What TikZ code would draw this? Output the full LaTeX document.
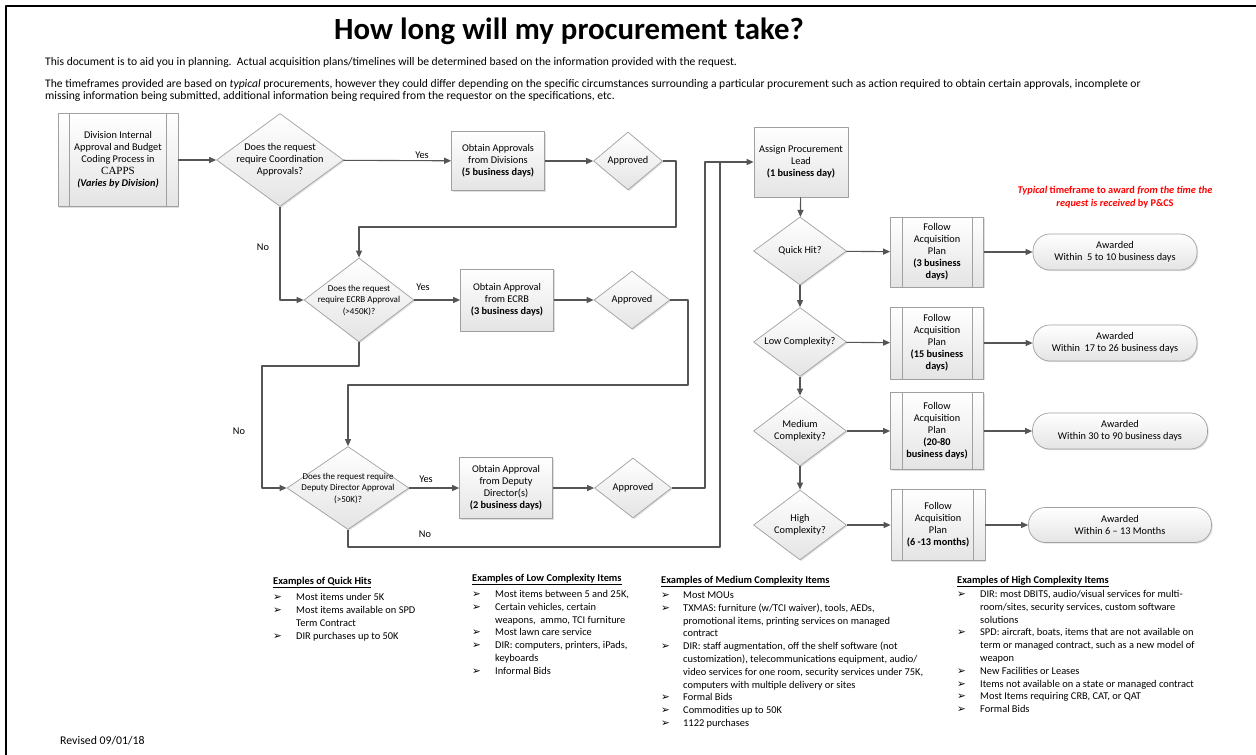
\documentclass[tikz,border=0pt]{standalone}
\usepackage{fontspec}
\setmainfont{Carlito}
\newfontfamily\cappsfont{Liberation Serif}
\newfontfamily\arrowfont{DejaVu Sans}
\usetikzlibrary{shapes.geometric,arrows.meta,shadows}
\definecolor{linegray}{HTML}{555555}
\definecolor{edgegray}{HTML}{A0A0A0}
\definecolor{fillgray}{HTML}{E4E4E4}
\definecolor{notered}{HTML}{FF0000}
\newcommand{\tick}{{\arrowfont\fontsize{10.5}{10}\selectfont ➢}}
\tikzset{
  shapebase/.style={draw=edgegray, line width=0.7pt, top color=white, bottom color=fillgray,
    drop shadow={shadow xshift=1.2pt, shadow yshift=-1.2pt, opacity=0.25},
    align=center, font=\fontsize{10.3}{12}\selectfont},
  stepbox/.style={shapebase, rectangle, inner sep=0pt},
  procbox/.style={stepbox},
  decision/.style={shapebase, diamond, inner xsep=-35pt, inner ysep=-25pt},
  smalltext/.style={font=\fontsize{9}{11.5}\selectfont},
  endbox/.style={shapebase, rectangle, rounded corners=17pt, inner sep=0pt},
  flow/.style={draw=linegray, line width=1.1pt, -{Triangle[length=7pt,width=6pt]}},
  rail/.style={draw=linegray, line width=1.1pt},
  lbl/.style={font=\fontsize{10.3}{12}\selectfont, inner sep=0pt},
  listtext/.style={anchor=north west, inner sep=0pt, align=left, font=\fontsize{10.4}{12.8}\selectfont},
}
\begin{document}
\begin{tikzpicture}[x=1pt, y=-1pt, line join=round]
  \useasboundingbox (0,0) rectangle (1256,755);
  %% khung trang
  \draw[line width=2pt] (6,755) -- (6,6) -- (1256,6);

  %% tieu de va loi dan
  \node[font=\bfseries\fontsize{30.8}{34}\selectfont] (title) at (569,31) {How long will my procurement take?};
  \node[anchor=west, inner sep=0pt, font=\fontsize{11.6}{12}\selectfont] (intro) at (45,62)
    {This document is to aid you in planning.\ \ Actual acquisition plans/timelines will be determined based on the information provided with the request.};
  \node[anchor=north west, inner sep=0pt, align=left, font=\fontsize{11.6}{12}\selectfont] (timeframes) at (45,79)
    {The timeframes provided are based on \textit{typical} procurements, however they could differ depending on the specific circumstances surrounding a particular procurement such as action required to obtain certain approvals, incomplete or\\
     missing information being submitted, additional information being required from the requestor on the specifications, etc.};

  %% cot trai: phe duyet
  \node[procbox, minimum width=120pt, minimum height=93pt] (start) at (118,160)
    {Division Internal\\Approval and Budget\\Coding Process in\\{\cappsfont\fontsize{11}{13}\selectfont CAPPS}\\\textbf{\textit{(Varies by Division)}}};
  \node[decision, minimum width=127pt, minimum height=93pt] (coord) at (280,160)
    {Does the request\\require Coordination\\Approvals?};
  \node[stepbox, minimum width=93pt, minimum height=59pt] (divs) at (498,161)
    {Obtain Approvals\\from Divisions\\\textbf{(5 business days)}};
  \node[decision, minimum width=69pt, minimum height=58pt] (okdivs) at (628,161) {Approved};

  \node[decision, smalltext, minimum width=110pt, minimum height=84pt] (ecrbq) at (359,300)
    {Does the request\\require ECRB Approval\\(>450K)?};
  \node[stepbox, minimum width=93pt, minimum height=62pt] (ecrb) at (507,300)
    {Obtain Approval\\from ECRB\\\textbf{(3 business days)}};
  \node[decision, minimum width=76pt, minimum height=58pt] (okecrb) at (632,300) {Approved};

  \node[decision, smalltext, minimum width=122pt, minimum height=83pt] (deputyq) at (348,488)
    {Does the request require\\Deputy Director Approval\\(>50K)?};
  \node[stepbox, minimum width=93pt, minimum height=61pt] (deputy) at (506,488)
    {Obtain Approval\\from Deputy\\Director(s)\\\textbf{(2 business days)}};
  \node[decision, minimum width=77pt, minimum height=60pt] (okdeputy) at (633,488) {Approved};

  %% cot phai: muc do phuc tap
  \node[stepbox, minimum width=94pt, minimum height=70pt] (lead) at (801,162)
    {Assign Procurement\\Lead\\\textbf{(1 business day)}};
  \node[decision, minimum width=93pt, minimum height=68pt] (quick) at (800,251) {Quick Hit?};
  \node[decision, minimum width=93pt, minimum height=69pt] (low) at (800,342) {Low Complexity?};
  \node[decision, minimum width=93pt, minimum height=70pt] (medium) at (800,431) {Medium\\Complexity?};
  \node[decision, minimum width=93pt, minimum height=70pt] (high) at (800,525) {High\\Complexity?};

  \node[procbox, minimum width=93pt, minimum height=70pt] (planq) at (937,252)
    {Follow\\Acquisition\\Plan\\\textbf{(3 business}\\\textbf{days)}};
  \node[procbox, minimum width=93pt, minimum height=72pt] (planl) at (937,343)
    {Follow\\Acquisition\\Plan\\\textbf{(15 business}\\\textbf{days)}};
  \node[procbox, minimum width=93pt, minimum height=77pt] (planm) at (937,431)
    {Follow\\Acquisition\\Plan\\\textbf{(20-80}\\\textbf{business days)}};
  \node[procbox, minimum width=94pt, minimum height=71pt] (planh) at (938,525)
    {Follow\\Acquisition\\Plan\\\textbf{(6 -13 months)}};

  \node[endbox, minimum width=164pt, minimum height=36pt] (awq) at (1115,252) {Awarded\\Within\ \ 5 to 10 business days};
  \node[endbox, minimum width=164pt, minimum height=36pt] (awl) at (1115,343) {Awarded\\Within\ \ 17 to 26 business days};
  \node[endbox, minimum width=175pt, minimum height=36pt] (awm) at (1120,431) {Awarded\\Within 30 to 90 business days};
  \node[endbox, minimum width=183pt, minimum height=35pt] (awh) at (1120,525) {Awarded\\Within 6 -- 13 Months};

  \node[align=center, text=notered, font=\bfseries\fontsize{10.3}{13}\selectfont] (note) at (1115,197)
    {\textit{Typical} timeframe to award \textit{from the time the}\\\textit{request is received} by P\&CS};

  %% vach doi cua hop quy trinh
  \foreach \n/\d in {start/12,planq/12,planl/12,planm/12,planh/12}
    \draw[draw=edgegray, line width=0.7pt] ([xshift=\d pt]\n.north west) -- ([xshift=\d pt]\n.south west)
      ([xshift=-\d pt]\n.north east) -- ([xshift=-\d pt]\n.south east);

  %% diem gay
  \path
    (676,227) coordinate (loopdivs)
    (688,385) coordinate (loopecrb)
    (262,366) coordinate (bendecrb)
    (705,162) coordinate (railok)
    (720,547) coordinate (railno)
    (720,162) coordinate (railtop)
    ;

  %% duong noi
  \draw[flow] (start) -- (coord);
  \draw[flow] (coord) -- (divs);
  \draw[flow] (divs) -- (okdivs);
  \draw[flow] (okdivs.east) -| (loopdivs) -| (ecrbq.north);
  \draw[flow] (coord.south) |- (ecrbq.west);
  \draw[flow] (ecrbq) -- (ecrb);
  \draw[flow] (ecrb) -- (okecrb);
  \draw[flow] (okecrb.east) -| (loopecrb) -| (deputyq.north);
  \draw[flow] (ecrbq.south) |- (bendecrb) |- (deputyq.west);
  \draw[flow] (deputyq) -- (deputy);
  \draw[flow] (deputy) -- (okdeputy);
  \draw[flow] (okdeputy.east) -| (railok) -- (lead.west);
  \draw[rail] (deputyq.south) |- (railno) -- (railtop);

  \draw[flow] (lead) -- (quick);
  \draw[flow] (quick) -- (low);
  \draw[flow] (low) -- (medium);
  \draw[flow] (medium) -- (high);
  \foreach \d/\p/\a in {quick/planq/awq,low/planl/awl,medium/planm/awm,high/planh/awh}{
    \draw[flow] (\d) -- (\p);
    \draw[flow] (\p) -- (\a);
  }

  %% nhan Yes/No
  \node[lbl] (yes1) at (422,155) {Yes};
  \node[lbl] (yes2) at (423,287) {Yes};
  \node[lbl] (yes3) at (426,479) {Yes};
  \node[lbl] (no1) at (263,247) {No};
  \node[lbl] (no2) at (239,431) {No};
  \node[lbl] (no3) at (425,534) {No};

  %% vi du
  \node[listtext] (exquick) at (273,575) {%
    \begin{tabular}{@{}p{23pt}@{}l@{}}
    \multicolumn{2}{@{}l@{}}{\textbf{\underline{Examples of Quick Hits}}}\\[4pt]
    \tick & Most items under 5K\\
    \tick & Most items available on SPD\\
          & Term Contract\\
    \tick & DIR purchases up to 50K
    \end{tabular}};
  \node[listtext] (exlow) at (472,572) {%
    \begin{tabular}{@{}p{23pt}@{}l@{}}
    \multicolumn{2}{@{}l@{}}{\textbf{\underline{Examples of Low Complexity Items}}}\\[3.5pt]
    \tick & Most items between 5 and 25K,\\
    \tick & Certain vehicles, certain\\
          & weapons,\ \ ammo, TCI furniture\\
    \tick & Most lawn care service\\
    \tick & DIR: computers, printers, iPads,\\
          & keyboards\\
    \tick & Informal Bids
    \end{tabular}};
  \node[listtext] (exmedium) at (661,574) {%
    \begin{tabular}{@{}p{22pt}@{}l@{}}
    \multicolumn{2}{@{}l@{}}{\textbf{\underline{Examples of Medium Complexity Items}}}\\[2.5pt]
    \tick & Most MOUs\\
    \tick & TXMAS: furniture (w/TCI waiver), tools, AEDs,\\
          & promotional items, printing services on managed\\
          & contract\\
    \tick & DIR: staff augmentation, off the shelf software (not\\
          & customization), telecommunications equipment, audio/\\
          & video services for one room, security services under 75K,\\
          & computers with multiple delivery or sites\\
    \tick & Formal Bids\\
    \tick & Commodities up to 50K\\
    \tick & 1122 purchases
    \end{tabular}};
  \node[listtext] (exhigh) at (957,574) {%
    \begin{tabular}{@{}p{23pt}@{}l@{}}
    \multicolumn{2}{@{}l@{}}{\textbf{\underline{Examples of High Complexity Items}}}\\[1.5pt]
    \tick & DIR: most DBITS, audio/visual services for multi-\\
          & room/sites, security services, custom software\\
          & solutions\\
    \tick & SPD: aircraft, boats, items that are not available on\\
          & term or managed contract, such as a new model of\\
          & weapon\\
    \tick & New Facilities or Leases\\
    \tick & Items not available on a state or managed contract\\
    \tick & Most Items requiring CRB, CAT, or QAT\\
    \tick & Formal Bids
    \end{tabular}};

  \node[anchor=west, inner sep=0pt, font=\fontsize{11.8}{13}\selectfont] (revised) at (60,741) {Revised 09/01/18};
\end{tikzpicture}
\end{document}
